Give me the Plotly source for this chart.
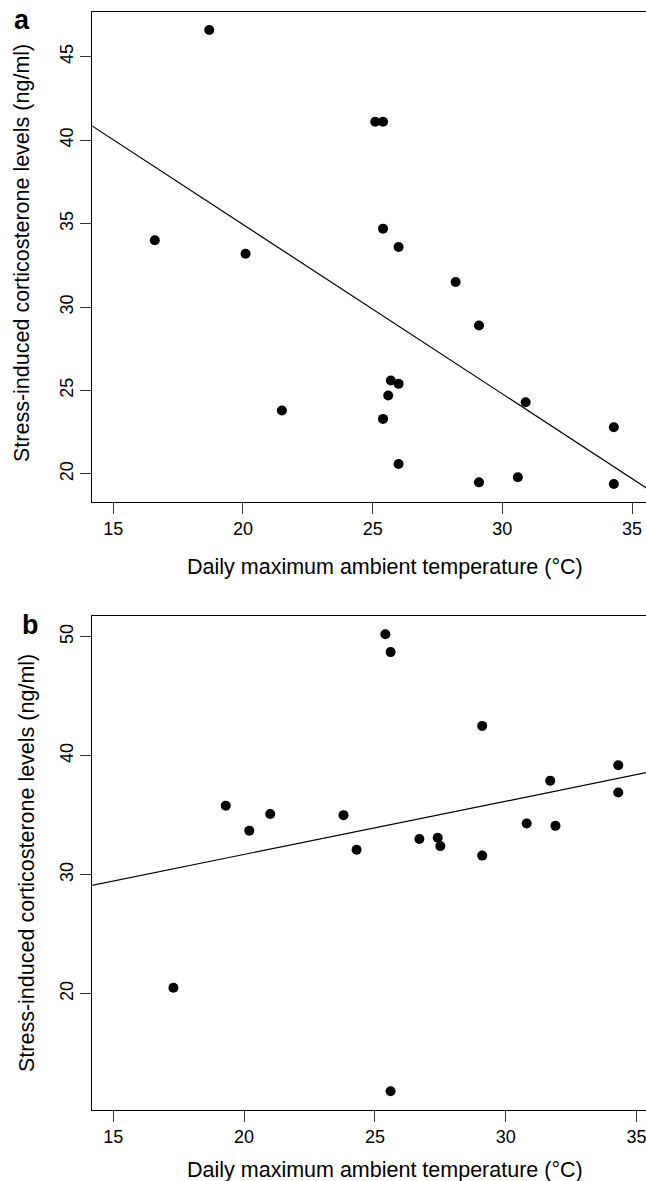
import plotly.graph_objects as go

# panel a: daily max temperature vs stress-induced corticosterone
temp_a = [18.7, 16.6, 20.1, 25.1, 25.4, 25.4, 26.0, 28.2, 21.5, 29.1, 25.7,
          26.0, 25.6, 25.4, 30.9, 34.3, 26.0, 29.1, 30.6, 34.3]
cort_a = [46.6, 34.0, 33.2, 41.1, 41.1, 34.7, 33.6, 31.5, 23.8, 28.9, 25.6,
          25.4, 24.7, 23.3, 24.3, 22.8, 20.6, 19.5, 19.8, 19.4]
fit_a = (55.25, -1.015)  # intercept, slope

# panel b
temp_b = [19.3, 20.2, 21.0, 25.4, 25.6, 29.1, 34.3, 31.7, 34.3, 23.8, 30.8,
          31.9, 26.7, 27.4, 27.5, 24.3, 29.1, 17.3, 25.6]
cort_b = [35.8, 33.7, 35.1, 50.2, 48.7, 42.5, 39.2, 37.9, 36.9, 35.0, 34.3,
          34.1, 33.0, 33.1, 32.4, 32.1, 31.6, 20.5, 11.8]
fit_b = (22.76, 0.447)

x_ticks = [15, 20, 25, 30, 35]
y_ticks_a = [20, 25, 30, 35, 40, 45]
y_ticks_b = [20, 30, 40, 50]

xlab = "Daily maximum ambient temperature (°C)"
ylab = "Stress-induced corticosterone levels (ng/ml)"

W, H = 646, 1181
FONT = "Liberation Sans, Arial, sans-serif"


def fx(px):
    return px / W


def fy(py):
    return 1 - py / H


fig = go.Figure()

panels = [
    ("", temp_a, cort_a, fit_a, [14.19, 35.54], [18.34, 47.68], y_ticks_a),
    ("2", temp_b, cort_b, fit_b, [14.20, 35.36], [10.25, 51.76], y_ticks_b),
]
for n, tx, cy, (b0, b1), xr, yr, yt in panels:
    fig.add_trace(go.Scatter(x=tx, y=cy, mode="markers", xaxis="x" + n, yaxis="y" + n,
                             marker=dict(color="black", size=10), showlegend=False))
    lx = [xr[0] - 1, xr[1] + 1]
    fig.add_trace(go.Scatter(x=lx, y=[b0 + b1 * v for v in lx], mode="lines",
                             xaxis="x" + n, yaxis="y" + n,
                             line=dict(color="black", width=1.2), showlegend=False))

common = dict(showgrid=False, zeroline=False, showline=True, linecolor="black",
              linewidth=1.3, ticks="outside", ticklen=11, tickwidth=1.3,
              tickcolor="#333", ticklabeloverflow="allow",
              tickfont=dict(family=FONT, size=18, color="black"))

fig.update_layout(
    width=W, height=H,
    margin=dict(l=0, r=0, t=0, b=0),
    plot_bgcolor="white", paper_bgcolor="white",
    xaxis=dict(domain=[fx(92.3), 1], range=panels[0][4], tickvals=x_ticks,
               anchor="y", mirror=True, **common),
    yaxis=dict(domain=[fy(501.7), fy(12)], range=panels[0][5], tickvals=y_ticks_a,
               anchor="x", tickangle=-90, **common),
    xaxis2=dict(domain=[fx(92.3), 1], range=panels[1][4], tickvals=x_ticks,
                anchor="y2", mirror=True, **common),
    yaxis2=dict(domain=[fy(1109.7), fy(615.7)], range=panels[1][5], tickvals=y_ticks_b,
                anchor="x2", tickangle=-90, **common),
)

ann = []
# x titles
for yc in (566.7, 1170):
    ann.append(dict(text=xlab, x=fx(385.3), y=fy(yc), xref="paper", yref="paper",
                    showarrow=False, xanchor="center", yanchor="middle",
                    font=dict(family=FONT, size=21.5, color="black")))
# y titles
for xc, yc in ((22, 253), (27, 863)):
    ann.append(dict(text=ylab, x=fx(xc), y=fy(yc), xref="paper", yref="paper",
                    showarrow=False, textangle=-90, xanchor="center", yanchor="middle",
                    font=dict(family=FONT, size=21.5, color="black")))
# panel letters
for lab, xc, yb in (("a", 21.7, 37), ("b", 30, 642)):
    ann.append(dict(text="<b>%s</b>" % lab, x=fx(xc), y=fy(yb), xref="paper", yref="paper",
                    showarrow=False, xanchor="center", yanchor="bottom",
                    font=dict(family=FONT, size=27, color="black")))
fig.update_layout(annotations=ann)

# drop the default page margin so the figure sits at the window's corner
fig.write_html("out.html", config={"displayModeBar": False},
               post_script="document.body.style.margin='0';document.body.style.overflow='hidden';")
